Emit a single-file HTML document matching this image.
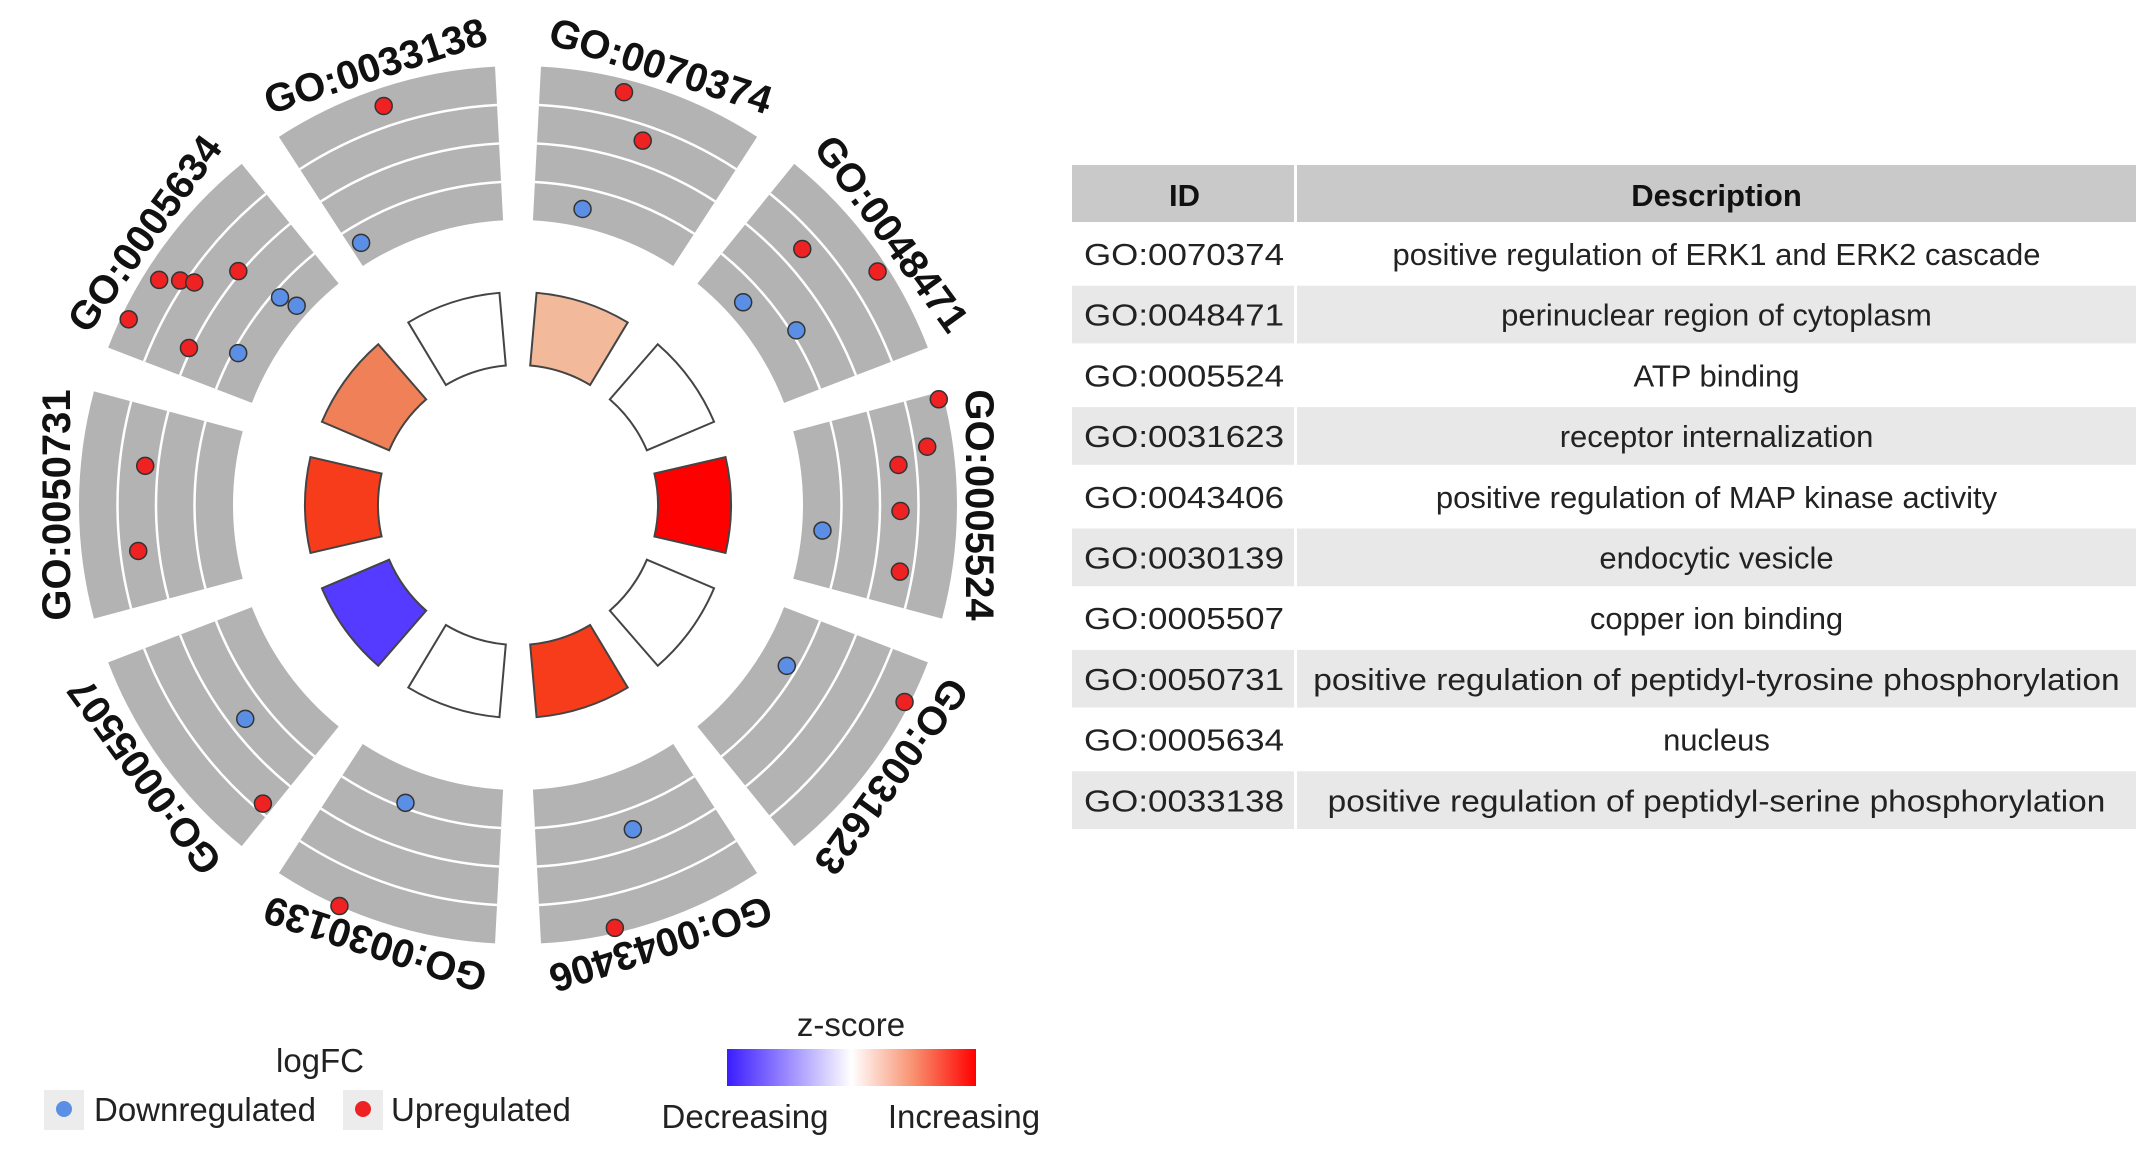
<!DOCTYPE html>
<html><head><meta charset="utf-8">
<style>
html,body{margin:0;padding:0;background:#fff;}
svg{display:block;font-family:"Liberation Sans",Arial,sans-serif;}
</style></head>
<body>
<svg id="chart" width="2150" height="1149" viewBox="0 0 2150 1149" xmlns="http://www.w3.org/2000/svg">
  <g id="circle"></g>
  <g id="legend">
    <text x="320" y="1072" font-size="33" text-anchor="middle" fill="#222">logFC</text>
    <rect x="44" y="1090" width="40" height="40" fill="#ececec"/>
    <circle cx="64" cy="1109" r="8" fill="#5b8fe6"/>
    <text x="94" y="1121" font-size="33" fill="#222">Downregulated</text>
    <rect x="343" y="1090" width="40" height="40" fill="#ececec"/>
    <circle cx="363" cy="1109" r="8" fill="#ee2222"/>
    <text x="391" y="1121" font-size="33" fill="#222">Upregulated</text>
    <text x="851" y="1036" font-size="33" text-anchor="middle" fill="#222">z-score</text>
    <defs><linearGradient id="zg" x1="0" x2="1"><stop offset="0" stop-color="#3b1cff"/><stop offset="0.5" stop-color="#ffffff"/><stop offset="0.75" stop-color="#f8906f"/><stop offset="1" stop-color="#ff0000"/></linearGradient></defs>
    <rect x="727" y="1049" width="249" height="37" fill="url(#zg)"/>
    <text x="745" y="1128" font-size="33" text-anchor="middle" fill="#222">Decreasing</text>
    <text x="964" y="1128" font-size="33" text-anchor="middle" fill="#222">Increasing</text>
  </g>
  <g id="table"></g>
</svg>
<script>
const terms = ["GO:0070374","GO:0048471","GO:0005524","GO:0031623","GO:0043406","GO:0030139","GO:0005507","GO:0050731","GO:0005634","GO:0033138"];
const descriptions = ["positive regulation of ERK1 and ERK2 cascade","perinuclear region of cytoplasm","ATP binding","receptor internalization","positive regulation of MAP kinase activity","endocytic vesicle","copper ion binding","positive regulation of peptidyl-tyrosine phosphorylation","nucleus","positive regulation of peptidyl-serine phosphorylation"];
const zscores = [0.9, 0, 3.0, 0, 2.4, 0, -2.6, 2.4, 1.6, 0];
// genes: term index, position within sector (0..1), logFC
const geneTerm = [0,0,0, 1,1,1,1, 2,2,2,2,2,2, 3,3, 4,4, 5,5, 6,6, 7,7, 8,8,8,8,8,8,8,8,8, 9,9];
const genePos  = [0.38,0.53,0.31, 0.30,0.60,0.30,0.63, 0.03,0.23,0.30,0.53,0.83,0.66, 0.33,0.20, 0.45,0.67, 0.59,0.70, 0.43,0.05, 0.70,0.27, 0.15,0.37,0.42,0.45,0.63,0.15,0.25,0.67,0.70, 0.48,0.07];
const geneLogFC = [2.5,0.9,-2.3, 0.8,2.6,-2.3,-1.3, 2.8,2.0,0.8,0.8,1.0,-2.2, -1.9,2.8, -0.7,2.8, -1.7,3.0, -0.6,1.2, 0.5,0.8, 2.7,2.4,1.7,1.2,0.1,0.1,-1.7,-1.8,-2.5, 2.3,-2.2];

const NS="http://www.w3.org/2000/svg";
const cx=518, cy=505;
const rIn=285, rOut=439, bIn=140, bOut=213;
const fcMin=-3, fcMax=3, zMax=3;
const step=360/terms.length;
function pt(a,r){const t=a*Math.PI/180;return [cx+r*Math.sin(t), cy-r*Math.cos(t)];}
function arc(a0,a1,r0,r1){const p1=pt(a0,r1),p2=pt(a1,r1),p3=pt(a1,r0),p4=pt(a0,r0);
 return `M${p1[0]},${p1[1]} A${r1},${r1} 0 0 1 ${p2[0]},${p2[1]} L${p3[0]},${p3[1]} A${r0},${r0} 0 0 0 ${p4[0]},${p4[1]} Z`;}
function rScale(v){return rIn+(v-fcMin)/(fcMax-fcMin)*(rOut-rIn);}
function zColor(z){let t=Math.max(-1,Math.min(1,z/zMax));
 if(t>=0){return `rgb(${Math.round(255-15*Math.sin(Math.PI*t))},${Math.round(255*Math.pow(1-t,0.9))},${Math.round(255*Math.pow(1-t,1.4))})`;}
 t=-t;return `rgb(${Math.round(255-(255-59)*t)},${Math.round(255-(255-28)*t)},255)`;}
const g=document.getElementById('circle');
function mk(tag,attrs,parent){const e=document.createElementNS(NS,tag);for(const k in attrs)e.setAttribute(k,attrs[k]);parent.appendChild(e);return e;}
terms.forEach((t,i)=>{
 const a0=i*step+3,a1=i*step+33;
 const tr=mk('path',{d:arc(a0,a1,rIn,rOut),fill:'#b3b3b3'},g);
 
 
 for(let k=1;k<=3;k++){const r=rIn+k*(rOut-rIn)/4;const p1=pt(a0,r),p2=pt(a1,r);
  const l=mk('path',{d:`M${p1[0]},${p1[1]} A${r},${r} 0 0 1 ${p2[0]},${p2[1]}`,fill:'none',stroke:'#fff','stroke-width':2.5},g);
  
  }
 const b=mk('path',{d:arc(i*step+5,i*step+31,bIn,bOut),fill:zColor(zscores[i]),stroke:'#444','stroke-width':2},g);
 
 
 const mid=i*step+18;const p=pt(mid,448);
 const tx=mk('text',{x:p[0],y:p[1],'text-anchor':'middle','font-size':40,'font-weight':'bold',fill:'#111',transform:`rotate(${mid} ${p[0]} ${p[1]})`},g);
 tx.textContent=t;
 
 
});
geneTerm.forEach((ti,j)=>{
 const a=ti*step+3+genePos[j]*30;const p=pt(a,rScale(geneLogFC[j]));
 const c=mk('circle',{cx:p[0],cy:p[1],r:8.5,fill:geneLogFC[j]>=0?'#ee2222':'#5b8fe6',stroke:'#333','stroke-width':1.5},g);
 
 
});
// table
const tb=document.getElementById('table');
const x0=1072,x1=1297,x2=2136,hy=165,hh=57,rh=60.7;
let h1=mk('rect',{x:x0,y:hy,width:x1-x0-3,height:hh,fill:'#c9c9c9'},tb);

let h2=mk('rect',{x:x1,y:hy,width:x2-x1,height:hh,fill:'#c9c9c9'},tb);

let ht=mk('text',{x:(x0+x1)/2,y:hy+41,'text-anchor':'middle','font-size':31,'font-weight':'bold',fill:'#111'},tb);ht.textContent='ID';

let hd=mk('text',{x:(x1+x2)/2,y:hy+41,'text-anchor':'middle','font-size':31,'font-weight':'bold',fill:'#111'},tb);hd.textContent='Description';

terms.forEach((t,i)=>{
 const y=hy+hh+3+i*rh;const bg=i%2?'#e8e8e8':'#ffffff';
 let r1=mk('rect',{x:x0,y:y,width:x1-x0-3,height:rh-3,fill:bg},tb);
 
 let r2=mk('rect',{x:x1,y:y,width:x2-x1,height:rh-3,fill:bg},tb);
 
 let a=mk('text',{x:x0+12,y:y+40,'font-size':31,fill:'#222',textLength:200,lengthAdjust:'spacingAndGlyphs'},tb);a.textContent=t;
 
 const d=descriptions[i];
 const attrs={x:(x1+x2)/2,y:y+40,'text-anchor':'middle','font-size':31,fill:'#222'};
 if(d.length>50){attrs.textLength=d.length*14.4;attrs.lengthAdjust='spacingAndGlyphs';}
 let dd=mk('text',attrs,tb);dd.textContent=d;
 
});
</script>
</body></html>
